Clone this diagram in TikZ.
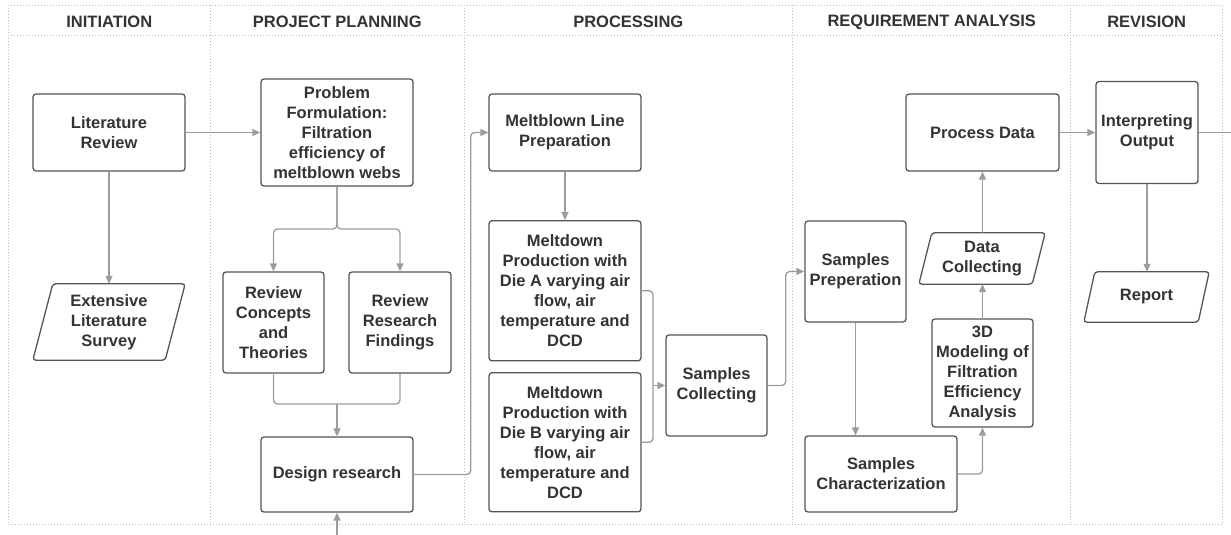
\documentclass[tikz,border=0pt]{standalone}
\usepackage{fontspec}
\setmainfont{Liberation Sans}
\usetikzlibrary{arrows.meta}
\definecolor{inkText}{HTML}{333333}
\definecolor{inkBox}{HTML}{555555}
\definecolor{inkLine}{HTML}{9C9C9C}
\definecolor{inkGrid}{HTML}{BDBDBD}
\tikzset{
  txt/.style={font=\fontsize{16.5}{20}\selectfont\bfseries, text=inkText, align=center, inner sep=2pt},
  box/.style={txt, draw=inkBox, line width=1.3pt, rounded corners=3pt},
  ghost/.style={txt},
  slantline/.style={draw=inkBox, line width=1.3pt, rounded corners=3pt},
  conn/.style={draw=inkLine, line width=1.3pt, rounded corners=4pt},
  arrow/.style={conn, -{Triangle[length=8pt,width=7pt]}},
  lane/.style={draw=inkGrid, line width=0.9pt, dash pattern=on 1pt off 2pt},
  head/.style={txt}
}
\begin{document}
\begin{tikzpicture}[x=1pt,y=-1pt]
\useasboundingbox (0,0) rectangle (1231,535);

% swimlane frame
\draw[lane] (8,5.5) rectangle (1222.7,524);
\draw[lane] (8,35) -- (1222.7,35);
\foreach \xx in {210.7,464,792.7,1070.7}
  \draw[lane] (\xx,5.5) -- (\xx,524);

\node[head] (h1) at (109.3,22) {INITIATION};
\node[head] (h2) at (337.3,22) {PROJECT PLANNING};
\node[head] (h3) at (628.3,22) {PROCESSING};
\node[head] (h4) at (931.7,22) {REQUIREMENT ANALYSIS};
\node[head] (h5) at (1146.7,22) {REVISION};

% process steps
\node[box, minimum width=152pt, minimum height=77pt] (litrev) at (109,132.5) {Literature\\Review};
\node[ghost, minimum width=152pt, minimum height=76pt] (els) at (109,322) {Extensive\\Literature\\Survey};
\draw[slantline] ([xshift=20pt]els.north west) -- (els.north east) -- ([xshift=-20pt]els.south east) -- (els.south west) -- cycle;

\node[box, minimum width=152pt, minimum height=107pt] (prob) at (337,132.5) {Problem\\Formulation:\\Filtration\\efficiency of\\meltblown webs};
\node[box, minimum width=101pt, minimum height=101pt] (rct) at (273.5,322.5) {Review\\Concepts\\and\\Theories};
\node[box, minimum width=102pt, minimum height=101pt] (rrf) at (400,322.5) {Review\\Research\\Findings};
\node[box, minimum width=152pt, minimum height=75pt] (design) at (337,474.5) {Design research};

\node[box, minimum width=152pt, minimum height=77pt] (mlp) at (565,132.5) {Meltblown Line\\Preparation};
\node[box, minimum width=152pt, minimum height=140pt] (mdA) at (565,290.8) {Meltdown\\Production with\\Die A varying air\\flow, air\\temperature and\\DCD};
\node[box, minimum width=152pt, minimum height=139pt] (mdB) at (565,442.3) {Meltdown\\Production with\\Die B varying air\\flow, air\\temperature and\\DCD};
\node[box, minimum width=101pt, minimum height=101pt] (sc) at (716.5,385.5) {Samples\\Collecting};

\node[box, minimum width=101pt, minimum height=101pt] (sp) at (855.5,271.5) {Samples\\Preperation};
\node[box, minimum width=152pt, minimum height=76pt] (schar) at (881,474) {Samples\\Characterization};
\node[box, minimum width=101pt, minimum height=108pt] (model) at (982.5,373) {3D\\Modeling of\\Filtration\\Efficiency\\Analysis};
\node[ghost, minimum width=126pt, minimum height=51pt] (dc) at (982,258.5) {Data\\Collecting};
\draw[slantline] ([xshift=13pt]dc.north west) -- (dc.north east) -- ([xshift=-13pt]dc.south east) -- (dc.south west) -- cycle;
\node[box, minimum width=153pt, minimum height=77pt] (pd) at (982.5,132.5) {Process Data};

\node[box, minimum width=102pt, minimum height=102pt] (io) at (1147,132.5) {Interpreting\\Output};
\node[ghost, minimum width=125pt, minimum height=50pt] (rep) at (1146.5,297) {Report};
\draw[slantline] ([xshift=11pt]rep.north west) -- (rep.north east) -- ([xshift=-11pt]rep.south east) -- (rep.south west) -- cycle;

% connection points
\coordinate (split) at (337,229);
\coordinate (merge) at (337,404);
\coordinate (inlet) at (337,535);
\coordinate (joinAB) at (653,385.5);
\coordinate (outlet) at (1231,132.5);

% connectors
\draw[arrow] (litrev.east) -- (prob.west);
\draw[arrow] (litrev.south) -- (els.north);
\draw[arrow] (prob.south) -- (split) -| (rct.north);
\draw[arrow] (prob.south) -- (split) -| (rrf.north);
\draw[conn] (rct.south) |- (merge);
\draw[conn] (rrf.south) |- (merge);
\draw[arrow] (merge) -- (design.north);
\draw[arrow] (inlet) -- (design.south);
\draw[arrow] (design.east) -- ++(57,0) |- (mlp.west);
\draw[arrow] (mlp.south) -- (mdA.north);
\draw[conn] (mdA.east) -| (joinAB);
\draw[conn] (mdB.east) -| (joinAB);
\draw[arrow] (joinAB) -- (sc.west);
\draw[arrow] (sc.east) -- ++(18,0) |- (sp.west);
\draw[arrow] (sp.south) -- (sp.south |- schar.north);
\draw[arrow] (schar.east) -| (model.south);
\draw[arrow] (model.north) -- (model.north |- dc.south);
\draw[arrow] (dc.north -| pd.south) -- (pd.south);
\draw[arrow] (pd.east) -- (io.west);
\draw[arrow] (io.south) -- (io.south |- rep.north);
\draw[conn] (io.east) -- (outlet);
\end{tikzpicture}
\end{document}
